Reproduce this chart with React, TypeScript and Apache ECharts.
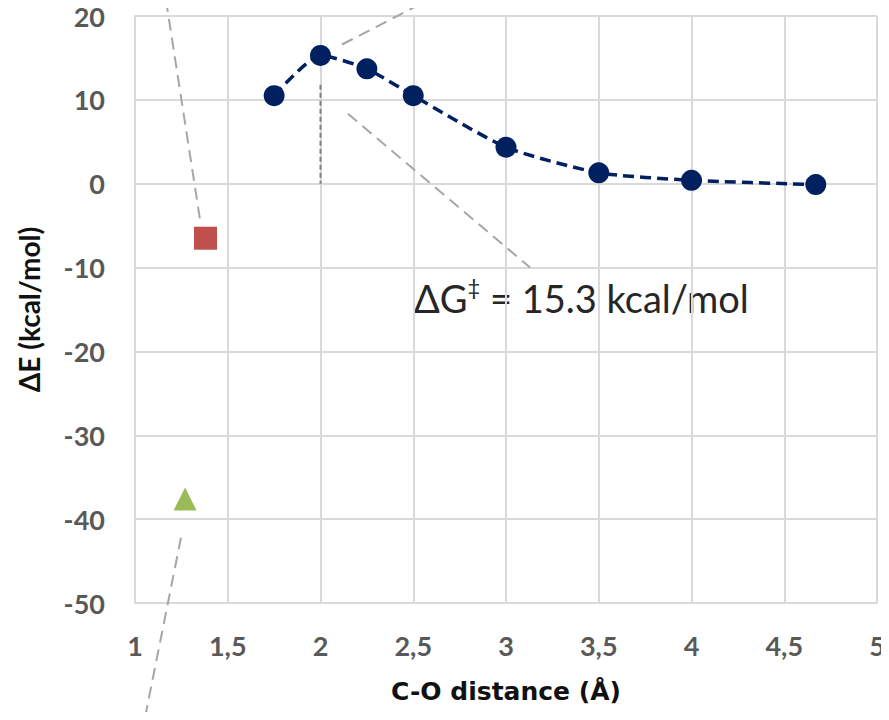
import React, { useEffect, useRef } from "react";
import * as echarts from "echarts";

const distances = [1.75, 2, 2.25, 2.5, 3, 3.5, 4, 4.67];
const energies = [10.5, 15.3, 13.7, 10.5, 4.35, 1.3, 0.4, -0.1];
const reactantPoint = [1.38, -6.5];
const productPoint = [1.27, -37.6];
const guideTop = [[1.167, 21.9], [1.35, -4.2]];
const guideBottom = [[1.248, -42.2], [1.049, -64.2]];
const guidePeakUp = [[2.116, 16.6], [2.58, 21.9]];
const guidePeakDown = [[2.148, 8.35], [3.13, -10.0]];
const peakDrop = [[2, 11.8], [2, 0]];
const annotationMain = "ΔG";
const annotationSup = "‡";
const annotationRest = " = 15.3 kcal/mol";

export default function App() {
  const ref = useRef<HTMLDivElement>(null);
  useEffect(() => {
    const chart = echarts.init(ref.current!, undefined, { renderer: "svg" });
    const font = "Lato, 'Open Sans', sans-serif";
    const wide = "'DejaVu Sans', sans-serif";
    const guide = (data: number[][], color = "#a6a6a6", dash = [12, 7]) => ({
      type: "line",
      data,
      clip: false,
      symbol: "none",
      silent: true,
      z: 1,
      lineStyle: { color, width: 2, type: dash },
    });
    chart.setOption({
      animation: false,
      backgroundColor: "#ffffff",
      grid: { left: 135, right: 12, top: 16, bottom: 117, containLabel: false },
      xAxis: {
        type: "value",
        min: 1,
        max: 5,
        interval: 0.5,
        name: "C-O distance (Å)",
        nameLocation: "middle",
        nameGap: 76,
        nameTextStyle: { fontFamily: wide, fontSize: 25, fontWeight: "bold", color: "#111" },
        axisLine: { show: true, lineStyle: { color: "#d9d9d9", width: 2 } },
        axisTick: { show: false },
        axisLabel: {
          margin: 29,
          fontFamily: font,
          fontSize: 27,
          fontWeight: "bold",
          color: "#595959",
          formatter: (v: number) => String(v).replace(".", ","),
        },
        splitLine: { show: true, lineStyle: { color: "#d9d9d9", width: 2 } },
      },
      yAxis: {
        type: "value",
        min: -50,
        max: 20,
        interval: 10,
        name: "ΔE (kcal/mol)",
        nameLocation: "middle",
        nameGap: 92,
        nameRotate: 90,
        nameTextStyle: { fontFamily: font, fontSize: 28, fontWeight: "bold", color: "#111" },
        axisLine: { show: true, lineStyle: { color: "#d9d9d9", width: 2 } },
        axisTick: { show: false },
        axisLabel: { margin: 30, fontFamily: font, fontSize: 27, fontWeight: "bold", color: "#595959" },
        splitLine: { show: true, lineStyle: { color: "#d9d9d9", width: 2 } },
      },
      series: [
        guide(guideTop),
        guide(guideBottom),
        guide(guidePeakUp),
        guide(guidePeakDown),
        guide(peakDrop, "#7f7f7f", [5, 3]),
        {
          type: "line",
          data: distances.map((d, i) => [d, energies[i]]),
          smooth: 0.2,
          symbol: "circle",
          symbolSize: 21,
          z: 3,
          itemStyle: { color: "#002060", opacity: 1 },
          lineStyle: { color: "#002060", width: 3.5, type: [11, 6] },
        },
        {
          type: "scatter",
          data: [reactantPoint],
          symbol: "rect",
          symbolSize: 23,
          z: 3,
          itemStyle: { color: "#c0504d", opacity: 1 },
        },
        {
          type: "scatter",
          data: [productPoint],
          symbol: "triangle",
          symbolSize: 23,
          z: 3,
          itemStyle: { color: "#9bbb59", opacity: 1 },
        },
      ],
      graphic: [
        {
          type: "text",
          left: 414,
          top: 275,
          style: {
            text: annotationMain + "{sup|" + annotationSup + "}" + annotationRest,
            fontFamily: font,
            fontSize: 38,
            lineHeight: 45,
            fill: "#262626",
            rich: {
              sup: { fontFamily: font, fontSize: 22, lineHeight: 45, verticalAlign: "top", padding: [0, 0, 12, 0], fill: "#262626" },
            },
          },
        },
      ],
    });
    return () => chart.dispose();
  }, []);
  return <div ref={ref} style={{ width: 889, height: 720, margin: -8 }} />;
}
